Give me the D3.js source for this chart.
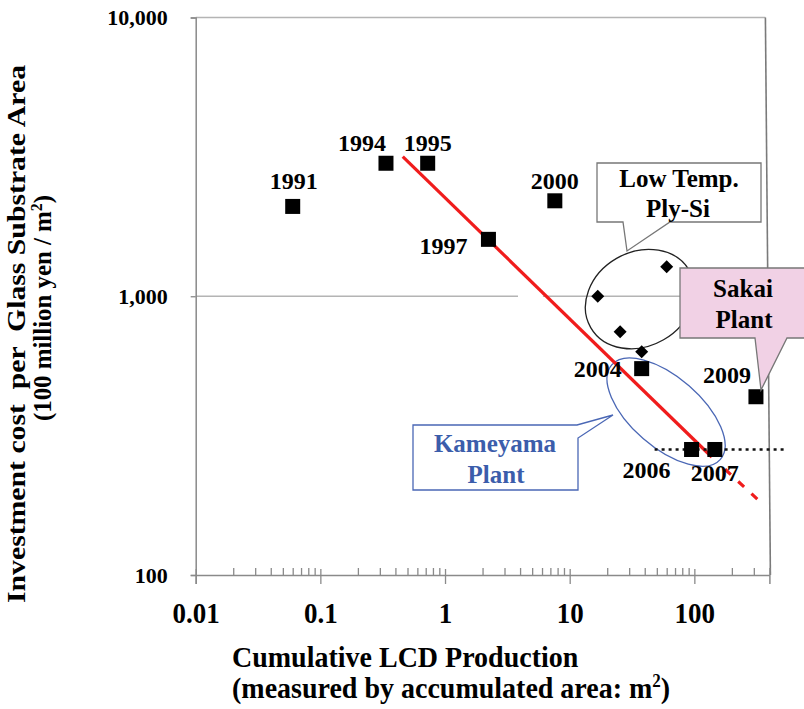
<!DOCTYPE html>
<html>
<head>
<meta charset="utf-8">
<script src="https://cdn.jsdelivr.net/npm/d3@7"></script>
<style>
  html, body { margin: 0; padding: 0; background: #fff; }
  svg { display: block; }
  text { font-family: "Liberation Serif", "Times New Roman", serif; font-weight: bold; white-space: pre; }
</style>
</head>
<body>
<svg id="chart" width="804" height="709"></svg>
<script>
// Investment cost per glass substrate area vs cumulative LCD production (log-log)
const years      = ["1991", "1994", "1995", "1997", "2000", "2004", "2006", "2007", "2009"];
const cumArea    = [0.060, 0.336, 0.726, 2.23, 7.6, 37.8, 95, 146, 312];
const investCost = [2100, 3000, 3000, 1600, 2200, 550, 282, 282, 436];

// Low temperature poly-Si lines
const ltpsArea = [16.8, 25.4, 37.8, 60];
const ltpsCost = [1000, 746, 632, 1276];

// Experience-curve trend (solid part, then dashed extension)
const trendArea = [0.458, 138];
const trendCost = [3170, 265];
const trendExtArea = [138, 347];
const trendExtCost = [265, 181];

// Cost floor reached at Kameyama
const floorArea = [48, 534];
const floorCost = [282, 282];

const xTickValues = [0.01, 0.1, 1, 10, 100];
const xTickLabels = ["0.01", "0.1", "1", "10", "100"];
const yTickValues = [100, 1000, 10000];
const yTickLabels = ["100", "1,000", "10,000"];
const xDomain = [0.01, 400];
const yDomain = [100, 10000];

const svg = d3.select("#chart");
const x = d3.scaleLog().domain(xDomain).range([195.7, 769.4]);
const y = d3.scaleLog().domain(yDomain).range([575, 17.5]);

const axisGray = "#8a8a8a";
const gridGray = "#b4b4b4";

// gridlines
svg.append("line")
  .attr("x1", x(0.01)).attr("x2", x(400) - 4)
  .attr("y1", y(10000)).attr("y2", y(10000))
  .attr("stroke", gridGray).attr("stroke-width", 1.5);
[[0.01, 3.85], [6.1, 400]].forEach(seg => {
  svg.append("line")
    .attr("x1", x(seg[0])).attr("x2", x(seg[1]))
    .attr("y1", y(1000)).attr("y2", y(1000))
    .attr("stroke", gridGray).attr("stroke-width", 1.5);
});

// right frame line
svg.append("line")
  .attr("x1", x(400) - 4).attr("y1", y(10000))
  .attr("x2", x(400) + 1).attr("y2", y(100))
  .attr("stroke", "#7a7a7a").attr("stroke-width", 1.6);

// x axis: minor ticks inward, major ticks outward
const minorX = [];
for (let d = 0.01; d < 400; d *= 10) {
  for (let k = 2; k <= 9; k++) { const v = d * k; if (v <= 400) minorX.push(v); }
}
const gxMinor = svg.append("g").attr("transform", `translate(0,${y(100)})`)
  .call(d3.axisBottom(x).tickValues(minorX).tickSize(-7).tickFormat(""));
const gx = svg.append("g").attr("transform", `translate(0,${y(100)})`)
  .call(d3.axisBottom(x).tickValues(xTickValues).tickSize(9)
    .tickFormat((d, i) => xTickLabels[i]));
gx.selectAll(".tick").append("line").attr("y1", 0).attr("y2", -6);
const xStretch = 1.12;
gx.selectAll(".tick text").attr("dy", null).attr("y", 48 / xStretch)
  .attr("transform", `scale(1,${xStretch})`)
  .style("font-size", "27px").attr("fill", "#000");
[gx, gxMinor].forEach(g => {
  g.select(".domain").attr("stroke", axisGray).attr("stroke-width", 1.5);
  g.selectAll(".tick line").attr("stroke", axisGray).attr("stroke-width", 1.3);
});
gxMinor.select(".domain").remove();

// y axis
const gy = svg.append("g").attr("transform", `translate(${x(0.01)},0)`)
  .call(d3.axisLeft(y).tickValues(yTickValues).tickSize(5).tickPadding(23)
    .tickFormat((d, i) => yTickLabels[i]));
gy.select(".domain").attr("stroke", axisGray).attr("stroke-width", 1.5);
gy.selectAll(".tick line").attr("stroke", axisGray).attr("stroke-width", 1.3);
gy.selectAll(".tick text").style("font-size", "22px").attr("fill", "#000");

// axis titles
svg.append("text").attr("transform", "translate(25,334) rotate(-90)")
  .attr("text-anchor", "middle").style("font-size", "25px")
  .attr("textLength", 538).attr("lengthAdjust", "spacingAndGlyphs")
  .text("Investment cost  per  Glass Substrate Area");
const yt2 = svg.append("text").attr("transform", "translate(51,308) rotate(-90)")
  .attr("text-anchor", "middle").style("font-size", "25px")
  .attr("textLength", 226).attr("lengthAdjust", "spacingAndGlyphs");
yt2.append("tspan").text("(100 million yen / m");
yt2.append("tspan").attr("dy", -9).style("font-size", "16px").text("2");
yt2.append("tspan").attr("dy", 9).text(")");

svg.append("text").attr("transform", "translate(232,667) scale(1,1.06)")
  .style("font-size", "28px").text("Cumulative LCD Production");
const xt2 = svg.append("text").attr("transform", "translate(232,698) scale(1,1.06)")
  .style("font-size", "28px");
xt2.append("tspan").text("(measured by accumulated area: m");
xt2.append("tspan").attr("dy", -10).style("font-size", "17px").text("2");
xt2.append("tspan").attr("dy", 10).text(")");

// ellipses (centred in data space)
svg.append("ellipse")
  .attr("transform", `translate(${x(36.7)},${y(977)}) rotate(-30)`)
  .attr("rx", 57).attr("ry", 47)
  .attr("fill", "none").attr("stroke", "#222").attr("stroke-width", 1.3);
svg.append("ellipse")
  .attr("transform", `translate(${x(59.3)},${y(384)}) rotate(41)`)
  .attr("rx", 72).attr("ry", 35)
  .attr("fill", "none").attr("stroke", "#4a67b5").attr("stroke-width", 1.3);

// trend line
const line = d3.line().x(d => x(d[0])).y(d => y(d[1]));
svg.append("path").datum(d3.zip(trendArea, trendCost)).attr("d", line)
  .attr("fill", "none").attr("stroke", "#f01c1c").attr("stroke-width", 3.2);
svg.append("path").datum(d3.zip(trendExtArea, trendExtCost)).attr("d", line)
  .attr("fill", "none").attr("stroke", "#f01c1c").attr("stroke-width", 3.2)
  .attr("stroke-dasharray", "0,18,8,10,8,10,8,10");

// cost floor
svg.append("path").datum(d3.zip(floorArea, floorCost)).attr("d", line)
  .attr("fill", "none").attr("stroke", "#111").attr("stroke-width", 2.6)
  .attr("stroke-dasharray", "3,4");

// markers
svg.append("g").selectAll("rect").data(d3.zip(cumArea, investCost)).join("rect")
  .attr("x", d => x(d[0]) - 7.5).attr("y", d => y(d[1]) - 7.5)
  .attr("width", 15).attr("height", 15).attr("fill", "#000");
svg.append("g").selectAll("path").data(d3.zip(ltpsArea, ltpsCost)).join("path")
  .attr("transform", d => `translate(${x(d[0])},${y(d[1])})`)
  .attr("d", "M0,-6.5 L6.5,0 L0,6.5 L-6.5,0 Z").attr("fill", "#000");

// year labels
const labelOffset = {
  "1991": [1, -17], "1994": [-24, -12], "1995": [0, -12], "1997": [-45, 15],
  "2000": [0, -12], "2004": [-44, 8], "2006": [-45, 29], "2007": [0, 32], "2009": [-29, -14]
};
svg.append("g").selectAll("text").data(years).join("text")
  .attr("x", (d, i) => x(cumArea[i]) + labelOffset[d][0])
  .attr("y", (d, i) => y(investCost[i]) + labelOffset[d][1])
  .attr("text-anchor", "middle").style("font-size", "24px").text(d => d);

// callouts
svg.append("path")
  .attr("d", "M597,163 H761 V222 H670 L627,251 L623,222 H597 Z")
  .attr("fill", "#fff").attr("stroke", "#777").attr("stroke-width", 1.3);
svg.append("text").attr("x", 679).attr("y", 187).attr("text-anchor", "middle")
  .style("font-size", "25px").text("Low Temp.");
svg.append("text").attr("x", 678).attr("y", 217).attr("text-anchor", "middle")
  .style("font-size", "25px").text("Ply-Si");

svg.append("path")
  .attr("d", "M680,268 H806 V338 H787 L761,390 L755,338 H680 Z")
  .attr("fill", "#f1d1e5").attr("stroke", "#777").attr("stroke-width", 1.3);
svg.append("text").attr("x", 743).attr("y", 297).attr("text-anchor", "middle")
  .style("font-size", "25px").text("Sakai");
svg.append("text").attr("x", 744).attr("y", 328).attr("text-anchor", "middle")
  .style("font-size", "25px").text("Plant");

svg.append("path")
  .attr("d", "M413,425 H577 L613,415 L578,438 V490 H413 Z")
  .attr("fill", "#fff").attr("stroke", "#4a67b5").attr("stroke-width", 1.3);
svg.append("text").attr("x", 495).attr("y", 452).attr("text-anchor", "middle")
  .attr("fill", "#3b5dab").style("font-size", "25px").text("Kameyama");
svg.append("text").attr("x", 496).attr("y", 483).attr("text-anchor", "middle")
  .attr("fill", "#3b5dab").style("font-size", "25px").text("Plant");
</script>
</body>
</html>
